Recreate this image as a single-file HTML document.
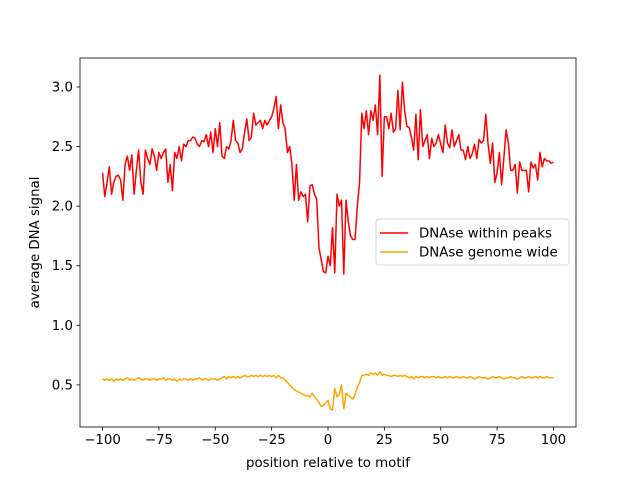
<!DOCTYPE html>
<html><head><meta charset="utf-8"><style>
body{margin:0;background:#fff;}
svg text{font-family:"DejaVu Sans","Liberation Sans",sans-serif;font-size:13.33px;fill:#000;}
</style></head><body>
<svg id="chart" width="640" height="480" xmlns="http://www.w3.org/2000/svg">
<rect x="0" y="0" width="640" height="480" fill="#fff"/>
<g id="plot"></g>
</svg>
<script>
const xTicks=[-100,-75,-50,-25,0,25,50,75,100];
const yTicks=[0.5,1.0,1.5,2.0,2.5,3.0];
const yTickLabels=["0.5","1.0","1.5","2.0","2.5","3.0"];
const redValues=[
2.28,2.08,2.20,2.33,2.10,2.20,2.25,2.26,2.22,2.05,
2.35,2.42,2.30,2.43,2.10,2.30,2.47,2.20,2.10,2.47,
2.40,2.35,2.48,2.42,2.30,2.45,2.40,2.45,2.48,2.20,
2.35,2.13,2.45,2.40,2.50,2.38,2.52,2.50,2.55,2.55,
2.58,2.57,2.52,2.50,2.55,2.54,2.60,2.50,2.62,2.45,
2.65,2.50,2.70,2.42,2.40,2.50,2.48,2.55,2.72,2.55,
2.53,2.45,2.48,2.62,2.73,2.55,2.58,2.78,2.68,2.70,
2.72,2.65,2.72,2.68,2.72,2.75,2.82,2.92,2.65,2.85,
2.70,2.65,2.45,2.50,2.35,2.05,2.35,2.05,2.12,2.08,
2.10,1.87,2.17,2.18,2.10,2.06,1.65,1.55,1.45,1.44,
1.58,1.50,1.82,1.44,2.10,2.00,2.05,1.43,2.05,1.87,
1.75,1.72,1.72,2.00,2.20,2.78,2.65,2.80,2.60,2.80,
2.72,2.85,2.60,3.10,2.25,2.75,2.75,2.65,2.78,2.62,
2.65,2.97,2.64,3.04,2.80,2.67,2.66,2.58,2.47,2.77,
2.39,2.81,2.50,2.55,2.60,2.40,2.57,2.50,2.53,2.60,
2.52,2.45,2.68,2.53,2.49,2.64,2.50,2.55,2.60,2.47,
2.47,2.39,2.50,2.40,2.44,2.52,2.40,2.56,2.53,2.55,
2.77,2.52,2.36,2.53,2.20,2.28,2.45,2.18,2.40,2.64,
2.53,2.30,2.30,2.35,2.11,2.37,2.30,2.30,2.30,2.12,
2.37,2.32,2.35,2.22,2.45,2.33,2.40,2.38,2.38,2.36,
2.37];
const orangeValues=[
0.55,0.54,0.55,0.54,0.55,0.53,0.55,0.54,0.55,0.54,
0.55,0.56,0.54,0.55,0.54,0.55,0.56,0.55,0.54,0.55,
0.55,0.54,0.55,0.55,0.54,0.55,0.55,0.56,0.54,0.55,
0.55,0.54,0.55,0.53,0.55,0.54,0.55,0.55,0.54,0.55,
0.54,0.55,0.55,0.56,0.54,0.55,0.55,0.54,0.55,0.55,
0.55,0.54,0.55,0.56,0.57,0.55,0.57,0.56,0.57,0.56,
0.57,0.56,0.57,0.58,0.57,0.57,0.58,0.57,0.58,0.57,
0.58,0.57,0.58,0.57,0.58,0.57,0.58,0.56,0.58,0.56,
0.56,0.54,0.52,0.50,0.48,0.46,0.45,0.44,0.43,0.42,
0.41,0.41,0.40,0.43,0.40,0.38,0.35,0.32,0.33,0.35,
0.37,0.30,0.29,0.47,0.40,0.42,0.50,0.30,0.43,0.41,
0.40,0.38,0.42,0.48,0.52,0.58,0.58,0.59,0.58,0.60,
0.59,0.60,0.58,0.61,0.58,0.59,0.58,0.58,0.57,0.58,
0.58,0.57,0.58,0.57,0.58,0.57,0.56,0.57,0.55,0.57,
0.56,0.57,0.57,0.56,0.57,0.56,0.57,0.57,0.56,0.57,
0.56,0.56,0.57,0.56,0.57,0.56,0.56,0.57,0.56,0.56,
0.57,0.56,0.56,0.57,0.56,0.55,0.56,0.57,0.56,0.56,
0.56,0.55,0.56,0.57,0.56,0.56,0.57,0.56,0.55,0.56,
0.56,0.57,0.56,0.56,0.55,0.56,0.57,0.56,0.56,0.57,
0.56,0.56,0.57,0.56,0.57,0.56,0.56,0.57,0.56,0.56,
0.56];
const xStart=-100;
const NS="http://www.w3.org/2000/svg";
const L=80,R=576,T=58,B=427,xMin=-110,xMax=110,yMin=0.147,yMax=3.243;
function sx(v){return L+(v-xMin)/(xMax-xMin)*(R-L);}
function sy(v){return B-(v-yMin)/(yMax-yMin)*(B-T);}
const g=document.getElementById('plot');
function mk(tag,attrs){const e=document.createElementNS(NS,tag);for(const k in attrs)e.setAttribute(k,attrs[k]);g.appendChild(e);return e;}
function series(vals,color,name){
  const pts=vals.map((v,i)=>sx(xStart+i).toFixed(2)+','+sy(v).toFixed(2)).join(' ');
  const p=mk('polyline',{points:pts,fill:'none',stroke:color,'stroke-width':1.5,'stroke-linejoin':'round'});
  
  
}
series(orangeValues,'#ffa500','genome-wide-line');
series(redValues,'#ff0000','within-peaks-line');
const frame=mk('rect',{x:L,y:T,width:R-L,height:B-T,fill:'none',stroke:'#000','stroke-width':0.8});


xTicks.forEach(t=>{
  const x=sx(t);
  const tk=mk('line',{x1:x,x2:x,y1:B,y2:B+3.5,stroke:'#000','stroke-width':0.8});
  
  
  const tx=mk('text',{x:x,y:B+17,'text-anchor':'middle'});tx.textContent=(t<0?'\u2212'+(-t):t);
  
  
});
yTicks.forEach((t,i)=>{
  const y=sy(t);
  const tk=mk('line',{x1:L-3.5,x2:L,y1:y,y2:y,stroke:'#000','stroke-width':0.8});
  
  
  const tx=mk('text',{x:L-7,y:y+4.5,'text-anchor':'end'});tx.textContent=yTickLabels[i];
  
  
});
const xl=mk('text',{x:(L+R)/2,y:467,'text-anchor':'middle'});xl.textContent='position relative to motif';


const yl=mk('text',{x:0,y:0,'text-anchor':'middle',transform:'translate(39,242.5) rotate(-90)'});yl.textContent='average DNA signal';


const lb=mk('rect',{x:376,y:219,width:193,height:46,rx:3,fill:'#fff','fill-opacity':0.8,stroke:'#ccc','stroke-width':0.8});


const l1=mk('line',{x1:380,x2:408,y1:233,y2:233,stroke:'#ff0000','stroke-width':1.5});


const t1=mk('text',{x:419,y:237.5});t1.textContent='DNAse within peaks';


const l2=mk('line',{x1:380,x2:408,y1:252,y2:252,stroke:'#ffa500','stroke-width':1.5});


const t2=mk('text',{x:419,y:256.5});t2.textContent='DNAse genome wide';


</script>
</body></html>
